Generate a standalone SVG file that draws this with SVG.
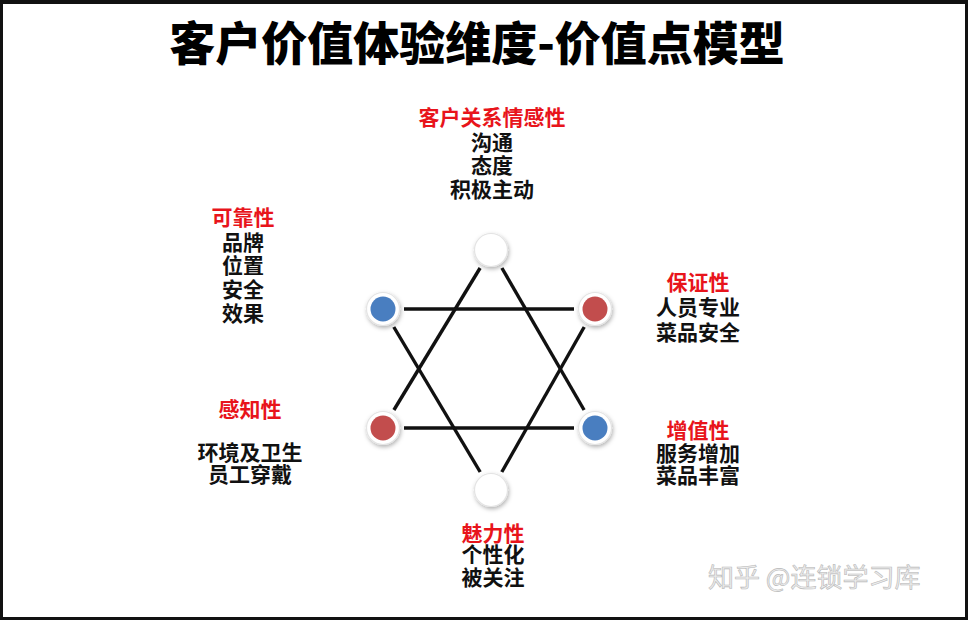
<svg xmlns="http://www.w3.org/2000/svg" width="968" height="620" viewBox="0 0 968 620">
<defs>
<style>
.t{font-family:"Noto Sans CJK SC","Noto Sans",sans-serif;font-weight:bold;text-anchor:middle;font-size:21px;fill:#111}
.title{font-size:46px;fill:#000;font-weight:900}
.h{fill:#e8141b}
.ln{stroke:#111;stroke-width:3.4;stroke-linecap:butt;fill:none}
.ring{fill:#fff;stroke:#e4e4e4;stroke-width:1.2}
.blue{fill:#4a7ec0}
.red{fill:#c24d4d}
.wm{font-family:"Noto Sans CJK SC",sans-serif;font-size:26px;fill:#ececec;stroke:#b8b8b8;stroke-width:0.6}
</style>
<filter id="sh" x="-50%" y="-50%" width="200%" height="200%">
<feDropShadow dx="1" dy="2" stdDeviation="2.2" flood-color="#000" flood-opacity="0.3"/>
</filter>
</defs>
<rect x="0" y="0" width="968" height="620" fill="#111"/>
<rect x="3" y="4" width="962" height="613" fill="#fff"/>

<text class="t title" x="477" y="60">客户价值体验维度-价值点模型</text>

<g id="connectors">
<line class="ln" x1="480.1" y1="268" x2="393.9" y2="410"/>
<line class="ln" x1="501.9" y1="268" x2="584.1" y2="410"/>
<line class="ln" x1="404" y1="428" x2="574" y2="428"/>
<line class="ln" x1="404" y1="309" x2="574" y2="309"/>
<line class="ln" x1="393.8" y1="327" x2="480.2" y2="472"/>
<line class="ln" x1="584.2" y1="327" x2="501.8" y2="472"/>
</g>

<g id="node-top" filter="url(#sh)"><circle class="ring" cx="491" cy="250" r="16.5"/></g>
<g id="node-upper-left" filter="url(#sh)"><circle class="ring" cx="383" cy="309" r="16.5"/><circle class="blue" cx="383" cy="309" r="12.5"/></g>
<g id="node-upper-right" filter="url(#sh)"><circle class="ring" cx="595" cy="309" r="16.5"/><circle class="red" cx="595" cy="309" r="12.5"/></g>
<g id="node-lower-left" filter="url(#sh)"><circle class="ring" cx="383" cy="428" r="16.5"/><circle class="red" cx="383" cy="428" r="12.5"/></g>
<g id="node-lower-right" filter="url(#sh)"><circle class="ring" cx="595" cy="428" r="16.5"/><circle class="blue" cx="595" cy="428" r="12.5"/></g>
<g id="node-bottom" filter="url(#sh)"><circle class="ring" cx="491" cy="490" r="16.5"/></g>

<g id="label-top">
<text class="t" x="492" y="125"><tspan class="h" x="492">客户关系情感性</tspan><tspan x="492" dy="25">沟通</tspan><tspan x="492" dy="23">态度</tspan><tspan x="492" dy="24">积极主动</tspan></text>
</g>
<g id="label-reliability">
<text class="t" x="243" y="225"><tspan class="h" x="243">可靠性</tspan><tspan x="243" dy="25">品牌</tspan><tspan x="243" dy="23">位置</tspan><tspan x="243" dy="24">安全</tspan><tspan x="243" dy="24">效果</tspan></text>
</g>
<g id="label-assurance">
<text class="t" x="698" y="290"><tspan class="h" x="698">保证性</tspan><tspan x="698" dy="25">人员专业</tspan><tspan x="698" dy="25">菜品安全</tspan></text>
</g>
<g id="label-perception">
<text class="t" x="250" y="417"><tspan class="h" x="250">感知性</tspan><tspan x="250" dy="43">环境及卫生</tspan><tspan x="250" dy="22">员工穿戴</tspan></text>
</g>
<g id="label-value-added">
<text class="t" x="698" y="438"><tspan class="h" x="698">增值性</tspan><tspan x="698" dy="23">服务增加</tspan><tspan x="698" dy="22">菜品丰富</tspan></text>
</g>
<g id="label-charm">
<text class="t" x="493" y="541"><tspan class="h" x="493">魅力性</tspan><tspan x="493" dy="21">个性化</tspan><tspan x="493" dy="23">被关注</tspan></text>
</g>

<text class="wm" x="708" y="587">知乎 @连锁学习库</text>
</svg>
